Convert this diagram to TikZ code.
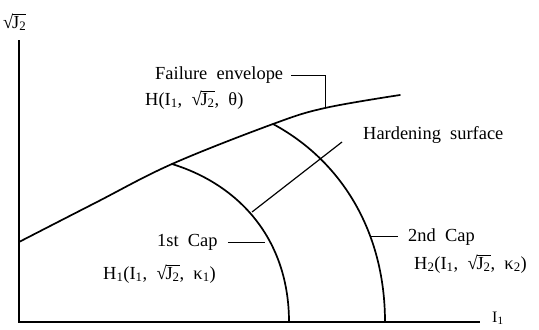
\documentclass[tikz,border=0pt]{standalone}
\usepackage{fontspec}
\setmainfont{Liberation Serif}
\newcommand\sqJ{\mbox{√\kern-0.06em$\overline{\mbox{J\textsubscript{2}}}$}}
\newcommand\sbs[1]{\textsubscript{#1}}
\begin{document}
\begin{tikzpicture}[x=1bp,y=-1bp,
  lbl/.style={font=\fontsize{18.5}{22}\selectfont, inner sep=0pt, anchor=base west},
  curve/.style={line width=1.7bp, line cap=round},
  axis/.style={line width=2bp},
  leader/.style={line width=0.9bp}]
\useasboundingbox (0,0) rectangle (539,329);
% axes
\coordinate (O) at (19,322);
\coordinate (ytop) at (19,40);
\coordinate (xend) at (480,322);
\draw[axis] (ytop) -- (O) -- (xend);
\node[lbl] (j2) at (3,28) {\sqJ};
\node[lbl,font=\fontsize{16}{18}\selectfont] (i1) at (492,322) {I\sbs{1}};
% failure envelope
\coordinate (e0) at (19,242);
\coordinate (e1) at (172,164);
\coordinate (e2) at (273,124);
\coordinate (e3) at (325,108);
\coordinate (e4) at (400,95);
\draw[curve] plot[smooth, tension=0.6] coordinates {(e0) (95,203) (e1) (e2) (e3) (e4)};
% caps
\coordinate (c1b) at (289,322);
\coordinate (c2b) at (385,322);
\draw[curve] (e1) .. controls (240,185) and (289,240) .. (c1b);
\draw[curve] (e2) .. controls (340,160) and (385,230) .. (c2b);
% hardening surface line
\coordinate (h0) at (252,212);
\coordinate (h1) at (342,142);
\draw[leader, line width=1.2bp] (h0) -- (h1);
% labels
\node[lbl] (fe) at (155,79) {Failure\ \ envelope};
\node[lbl] (feH) at (145,105) {H(I\sbs{1},\ \ \sqJ,\ \ θ)};
\node[lbl] (hs) at (363,139) {Hardening\ \ surface};
\node[lbl] (c1) at (157,246) {1st\ \ Cap};
\node[lbl] (c1H) at (103,279) {H\sbs{1}(I\sbs{1},\ \ \sqJ,\ \ κ\sbs{1})};
\node[lbl] (c2) at (408,241) {2nd\ \ Cap};
\node[lbl] (c2H) at (414,269) {H\sbs{2}(I\sbs{1},\ \ \sqJ,\ \ κ\sbs{2})};
% leaders
\coordinate (fec) at (325,75);
\draw[leader] (fe.east |- fec) ++(8,0) -- (fec) -- (e3);
\coordinate (c1p) at (265,242);
\draw[leader] (c1.east |- c1p) ++(10,0) -- (c1p);
\coordinate (c2p) at (371,236);
\draw[leader] (c2p) -- ([xshift=-10bp]c2.west |- c2p);
\end{tikzpicture}
\end{document}
